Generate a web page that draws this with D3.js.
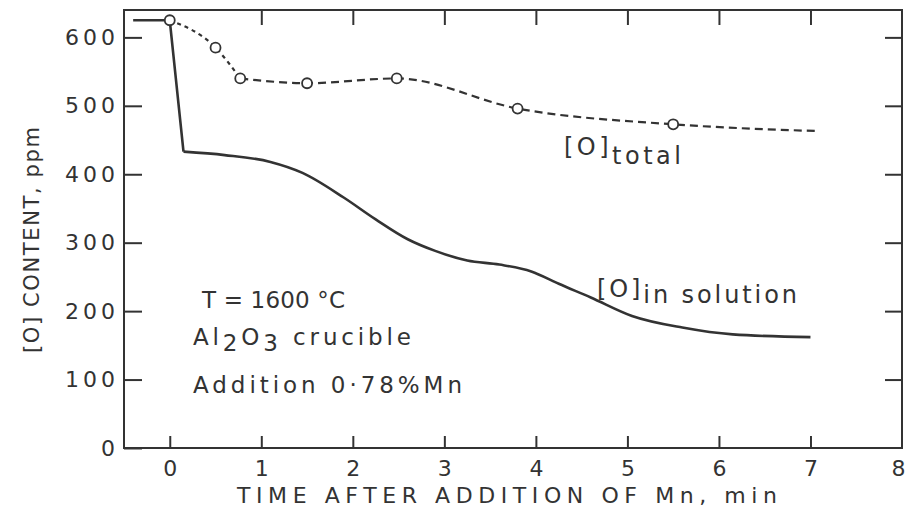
<!DOCTYPE html>
<html>
<head>
<meta charset="utf-8">
<script src="https://cdn.jsdelivr.net/npm/d3@7"></script>
<style>
  body { margin: 0; background: #fff; }
  text { font-family: "DejaVu Sans", sans-serif; fill: #333; }
</style>
</head>
<body>
<div id="chart"></div>
<script>
// data
var xTicks = [0, 1, 2, 3, 4, 5, 6, 7, 8];
var yTicks = [0, 100, 200, 300, 400, 500, 600];

// [O] in solution (solid line), minutes / ppm
var solTime = [-0.4, 0, 0.15, 0.6, 1.1, 1.45, 1.9, 2.25, 2.6, 2.9, 3.25, 3.6, 3.95, 4.25, 4.6, 5.05, 5.6, 6.15, 7.0];
var solPpm  = [625, 625, 433, 428, 418, 402, 366, 334, 305, 288, 274, 268, 258, 240, 220, 193, 176, 166, 162];

// [O] total (dashed line with measured points)
var totTime = [0, 0.5, 0.77, 1.5, 2.48, 3.8, 5.5];
var totPpm  = [625, 585, 540, 533, 540, 496, 473];
var totEndTime = 7.1;
var totEndPpm = 463;

function init() {
  var w = 908, h = 512;
  var ink = "#333";

  var x = d3.scaleLinear().domain([-0.5, 8]).range([124, 902]);
  var y = d3.scaleLinear().domain([0, 640]).range([448, 10]);

  var svg = d3.select("#chart").append("svg")
    .attr("width", w)
    .attr("height", h);

  // frame
  svg.append("rect")
    .attr("x", x(-0.5)).attr("y", y(640))
    .attr("width", x(8) - x(-0.5)).attr("height", y(0) - y(640))
    .attr("fill", "none").attr("stroke", ink).attr("stroke-width", 2);

  var left = svg.append("g")
    .attr("transform", "translate(" + x(-0.5) + ",0)")
    .call(d3.axisLeft(y).tickValues(yTicks).tickSize(-18).tickSizeOuter(0).tickPadding(5));
  var right = svg.append("g")
    .attr("transform", "translate(" + x(8) + ",0)")
    .call(d3.axisRight(y).tickValues(yTicks.slice(1)).tickSize(-17).tickSizeOuter(0).tickFormat(""));
  var bottom = svg.append("g")
    .attr("transform", "translate(0," + y(0) + ")")
    .call(d3.axisBottom(x).tickValues(xTicks).tickSize(-12).tickSizeOuter(0).tickPadding(12));
  var top = svg.append("g")
    .attr("transform", "translate(0," + y(640) + ")")
    .call(d3.axisTop(x).tickValues(xTicks.slice(1, 8)).tickSize(-15).tickSizeOuter(0).tickFormat(""));

  [left, right, bottom, top].forEach(function(g) {
    g.select(".domain").remove();
    g.selectAll(".tick line").attr("stroke", ink).attr("stroke-width", 2);
    g.selectAll(".tick text")
      .style("font-family", "DejaVu Sans, sans-serif")
      .style("font-size", "22px")
      .style("letter-spacing", "4px")
      .attr("fill", ink);
  });
  bottom.selectAll(".tick text").attr("dx", 2);
  var eight = bottom.selectAll(".tick").filter(function(d) { return d == 8; });
  eight.select("line").remove();
  eight.select("text").attr("dx", -2);

  // [O] in solution: sharp drop, then smooth decay
  var solPts = solTime.map(function(t, i) { return [t, solPpm[i]]; });
  var lineLin = d3.line().x(function(d) { return x(d[0]); }).y(function(d) { return y(d[1]); });
  var lineSmooth = d3.line().curve(d3.curveMonotoneX)
    .x(function(d) { return x(d[0]); }).y(function(d) { return y(d[1]); });

  svg.append("path")
    .attr("d", lineLin(solPts.slice(0, 3)))
    .attr("fill", "none").attr("stroke", ink).attr("stroke-width", 2.6)
    .attr("stroke-linejoin", "round");
  svg.append("path")
    .attr("d", lineSmooth(solPts.slice(2)))
    .attr("fill", "none").attr("stroke", ink).attr("stroke-width", 2.6);

  // [O] total
  var totPts = totTime.map(function(t, i) { return [t, totPpm[i]]; });
  svg.append("path")
    .attr("d", lineSmooth(totPts.slice(0, 3)))
    .attr("fill", "none").attr("stroke", ink).attr("stroke-width", 2.2)
    .attr("stroke-dasharray", "4,4");
  svg.append("path")
    .attr("d", lineSmooth(totPts.slice(2).concat([[totEndTime, totEndPpm]])))
    .attr("fill", "none").attr("stroke", ink).attr("stroke-width", 2.2)
    .attr("stroke-dasharray", "8,5");

  svg.selectAll("circle.pt")
    .data(totPts)
    .enter()
    .append("circle")
    .attr("class", "pt")
    .attr("cx", function(d) { return x(d[0]); })
    .attr("cy", function(d) { return y(d[1]); })
    .attr("r", 5)
    .attr("fill", "#fff").attr("stroke", ink).attr("stroke-width", 1.8);

  // axis titles
  svg.append("text")
    .attr("x", 237).attr("y", 503)
    .attr("textLength", 540).attr("lengthAdjust", "spacing")
    .style("font-size", "22px")
    .text("TIME AFTER ADDITION OF Mn, min");

  svg.append("text")
    .attr("transform", "translate(39,353) rotate(-90)")
    .attr("textLength", 226).attr("lengthAdjust", "spacing")
    .style("font-size", "21px")
    .text("[O] CONTENT, ppm");

  // curve labels
  var lt = svg.append("text").attr("x", 564).attr("y", 155).style("font-size", "24px")
    .attr("textLength", 117).attr("lengthAdjust", "spacing");
  lt.append("tspan").text("[O]");
  lt.append("tspan").attr("dy", 9).text("total");

  var ls = svg.append("text").attr("x", 597).attr("y", 297).style("font-size", "24px")
    .attr("textLength", 200).attr("lengthAdjust", "spacing");
  ls.append("tspan").text("[O]");
  ls.append("tspan").attr("dy", 6).text("in solution");

  // notes
  svg.append("text").attr("x", 202).attr("y", 308).style("font-size", "23px")
    .attr("textLength", 143).attr("lengthAdjust", "spacing")
    .text("T = 1600 °C");
  var al = svg.append("text").attr("x", 193).attr("y", 345).style("font-size", "23px")
    .attr("textLength", 218).attr("lengthAdjust", "spacing");
  al.append("tspan").text("Al");
  al.append("tspan").attr("dy", 6).text("2");
  al.append("tspan").attr("dy", -6).text("O");
  al.append("tspan").attr("dy", 6).text("3");
  al.append("tspan").attr("dy", -6).text("  crucible");
  svg.append("text").attr("x", 193).attr("y", 393).style("font-size", "23px")
    .attr("textLength", 269).attr("lengthAdjust", "spacing")
    .text("Addition  0·78%Mn");
}

window.onload = init;
</script>
</body>
</html>
